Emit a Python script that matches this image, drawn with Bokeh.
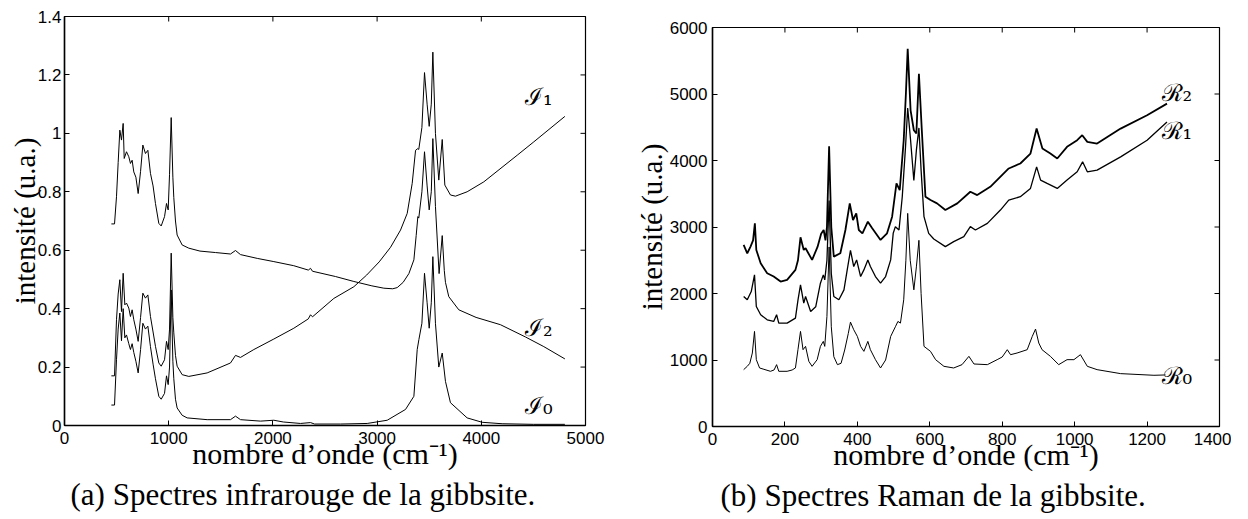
import math
from bokeh.plotting import figure
from bokeh.layouts import row, column
from bokeh.models import FixedTicker, Range1d, Title, ColumnDataSource
from bokeh.core.properties import value
from bokeh.embed import file_html
from bokeh.resources import INLINE

# ---------------- Infrared spectra (a) ----------------
i2_x = [450, 480, 499, 515, 531, 547, 563, 573, 595, 617, 633, 649, 665, 685, 707, 730, 752, 777, 800,
        825, 850, 873, 905, 928, 960, 979, 995, 1008, 1024, 1040, 1049, 1065, 1081, 1129, 1193, 1300,
        1450, 1593, 1641, 1689, 1850, 2009, 2200, 2340, 2361, 2380, 2600, 2777, 2950, 3065, 3150, 3193,
        3250, 3305, 3353, 3375, 3391, 3400, 3430, 3455, 3480, 3500, 3520, 3535, 3560, 3595, 3625, 3645,
        3656, 3688, 3784, 3950, 4184, 4424, 4600, 4802]
i2_y = [0.69, 0.69, 0.783, 0.90, 1.011, 0.977, 1.034, 0.914, 0.937, 0.92, 0.897, 0.908, 0.868, 0.85,
        0.794, 0.87, 0.96, 0.931, 0.942, 0.863, 0.82, 0.76, 0.692, 0.683, 0.715, 0.76, 0.738, 0.86,
        1.054, 0.85, 0.78, 0.70, 0.652, 0.618, 0.607, 0.597, 0.592, 0.587, 0.599, 0.585, 0.572, 0.561,
        0.547, 0.532, 0.538, 0.528, 0.51, 0.493, 0.478, 0.47, 0.468, 0.472, 0.49, 0.52, 0.567, 0.65,
        0.715, 0.71, 0.80, 0.937, 0.82, 0.738, 0.80, 0.982, 0.75, 0.52, 0.65, 0.53, 0.49, 0.441, 0.396,
        0.37, 0.345, 0.303, 0.27, 0.228]

i1_x = [450, 480, 499, 515, 531, 547, 563, 579, 595, 617, 633, 649, 665, 685, 707, 730, 752, 777, 800,
        825, 850, 873, 905, 928, 960, 979, 995, 1008, 1024, 1040, 1049, 1065, 1081, 1129, 1193, 1369,
        1593, 1641, 1689, 1817, 2009, 2201, 2340, 2361, 2380, 2585, 2777, 2900, 3020, 3129, 3225, 3289,
        3337, 3369, 3391, 3400, 3430, 3455, 3480, 3500, 3520, 3535, 3560, 3592, 3625, 3650, 3704, 3752,
        3864, 4024, 4344, 4504, 4802]
i1_y = [0.17, 0.17, 0.362, 0.45, 0.499, 0.39, 0.521, 0.413, 0.419, 0.402, 0.373, 0.396, 0.362, 0.33,
        0.288, 0.37, 0.453, 0.436, 0.447, 0.373, 0.32, 0.271, 0.214, 0.203, 0.225, 0.288, 0.26, 0.33,
        0.59, 0.37, 0.317, 0.24, 0.203, 0.174, 0.168, 0.18, 0.214, 0.24, 0.233, 0.26, 0.296, 0.333,
        0.365, 0.379, 0.372, 0.435, 0.475, 0.515, 0.56, 0.61, 0.669, 0.726, 0.829, 0.942, 0.948, 0.945,
        1.02, 1.208, 1.10, 1.024, 1.10, 1.278, 1.0, 0.84, 0.979, 0.823, 0.789, 0.785, 0.80, 0.834,
        0.925, 0.971, 1.058]

i0_x = [450, 480, 499, 515, 531, 547, 563, 579, 595, 617, 633, 649, 665, 685, 707, 730, 752, 777, 800,
        825, 850, 873, 905, 928, 960, 979, 995, 1008, 1024, 1040, 1049, 1065, 1081, 1129, 1177, 1369,
        1593, 1641, 1689, 1881, 2009, 2100, 2265, 2361, 2400, 2649, 2905, 3097, 3273, 3353, 3385, 3401,
        3430, 3455, 3480, 3500, 3520, 3535, 3560, 3592, 3625, 3656, 3704, 3864, 4008, 4200, 4500, 4802]
i0_y = [0.07, 0.07, 0.225, 0.33, 0.385, 0.29, 0.40, 0.30, 0.31, 0.28, 0.26, 0.28, 0.25, 0.22, 0.18,
        0.26, 0.35, 0.33, 0.34, 0.27, 0.21, 0.16, 0.10, 0.09, 0.11, 0.17, 0.14, 0.20, 0.464, 0.22, 0.16,
        0.09, 0.06, 0.035, 0.026, 0.02, 0.02, 0.032, 0.02, 0.015, 0.018, 0.012, 0.007, 0.01, 0.005,
        0.005, 0.007, 0.018, 0.055, 0.10, 0.26, 0.294, 0.35, 0.521, 0.42, 0.333, 0.42, 0.578, 0.35,
        0.20, 0.248, 0.151, 0.078, 0.026, 0.011, 0.006, 0.004, 0.004]

ir_xrange = (0, 5000)
ir_yrange = (0, 1.4)
ir_xticks = [0, 1000, 2000, 3000, 4000, 5000]
ir_yticks = [0, 0.2, 0.4, 0.6, 0.8, 1, 1.2, 1.4]
ir_ytick_labels = ["0", "0.2", "0.4", "0.6", "0.8", "1", "1.2", "1.4"]
ir_names = ["ℐ₁", "ℐ₂", "ℐ₀"]

# ---------------- Raman spectra (b) ----------------
r0_x = [86, 96, 103, 110, 116, 121, 130, 142, 160, 170, 177, 183, 206, 220, 229, 236, 243, 250, 257,
        266, 275, 289, 298, 306, 310, 316, 322, 328, 335, 345, 355, 365, 375, 381, 390, 400, 409, 418,
        429, 436, 450, 464, 478, 492, 505, 512, 519, 528, 534, 539, 546, 556, 563, 570, 576, 584, 602,
        616, 639, 666, 689, 708, 722, 759, 786, 800, 814, 823, 841, 869, 883, 892, 901, 910, 933, 956,
        979, 998, 1016, 1035, 1062, 1127, 1219, 1251]
r0_y = [855, 905, 950, 1105, 1430, 1005, 880, 860, 830, 850, 930, 830, 830, 850, 880, 1155, 1430, 1155,
        1205, 980, 905, 1005, 1205, 1280, 1205, 1655, 2700, 1500, 1050, 930, 950, 1150, 1400, 1570,
        1455, 1355, 1205, 1130, 1280, 1155, 1005, 880, 1000, 1355, 1500, 1580, 1555, 1905, 2500, 3205,
        2500, 2055, 2400, 2800, 2000, 1205, 1130, 1005, 905, 880, 930, 1055, 940, 930, 1005, 1045, 1155,
        1080, 1105, 1155, 1355, 1465, 1255, 1155, 1055, 930, 1005, 1005, 1080, 905, 855, 795, 770, 775]

r1_x = [86, 96, 107, 116, 121, 133, 151, 169, 177, 183, 206, 229, 236, 243, 252, 257, 271, 285, 298,
        306, 310, 316, 322, 328, 335, 349, 363, 372, 381, 390, 398, 409, 418, 429, 436, 450, 464, 478,
        492, 499, 505, 515, 524, 533, 539, 547, 556, 563, 570, 576, 584, 597, 611, 643, 666, 694, 712,
        726, 759, 795, 818, 850, 878, 895, 906, 924, 952, 979, 1007, 1022, 1035, 1062, 1127, 1200, 1255]
r1_y = [1955, 1905, 2030, 2280, 1805, 1680, 1605, 1580, 1680, 1555, 1555, 1630, 1900, 2130, 1855, 1955,
        1730, 1800, 2155, 2280, 2205, 2500, 3400, 2300, 1955, 1905, 2055, 2355, 2650, 2405, 2505, 2255,
        2355, 2505, 2405, 2255, 2155, 2255, 2505, 2905, 3005, 2955, 3455, 4205, 4790, 4305, 3700, 4155,
        4490, 3855, 3155, 2905, 2820, 2705, 2780, 2855, 3005, 2955, 3055, 3255, 3405, 3455, 3580, 3905,
        3705, 3655, 3580, 3705, 3830, 3980, 3830, 3855, 4055, 4305, 4580]

r2_x = [86, 96, 105, 112, 117, 121, 133, 151, 169, 188, 206, 229, 236, 243, 252, 257, 275, 290, 300,
        307, 312, 316, 322, 328, 335, 353, 367, 379, 388, 397, 404, 414, 429, 441, 464, 482, 496, 508,
        517, 528, 534, 539, 547, 556, 563, 570, 578, 588, 602, 620, 643, 676, 712, 731, 767, 818, 850,
        878, 895, 911, 933, 952, 979, 1007, 1021, 1035, 1062, 1127, 1200, 1255]
r2_y = [2730, 2605, 2705, 2800, 3055, 2655, 2455, 2305, 2255, 2180, 2205, 2355, 2500, 2845, 2655, 2680,
        2505, 2700, 2900, 2955, 2800, 3000, 4215, 3000, 2555, 2605, 2955, 3355, 3105, 3205, 2955, 2905,
        3080, 2980, 2805, 2905, 3155, 3655, 3555, 4305, 5000, 5680, 4755, 4455, 4405, 5305, 4455, 3455,
        3405, 3355, 3255, 3355, 3530, 3480, 3605, 3880, 3955, 4105, 4480, 4180, 4105, 4030, 4205, 4305,
        4380, 4280, 4255, 4480, 4680, 4855]

ra_xrange = (0, 1400)
ra_yrange = (0, 6000)
ra_xticks = [0, 200, 400, 600, 800, 1000, 1200, 1400]
ra_yticks = [0, 1000, 2000, 3000, 4000, 5000, 6000]
ra_ytick_labels = ["0", "1000", "2000", "3000", "4000", "5000", "6000"]
ra_names = ["ℛ₂", "ℛ₁", "ℛ₀"]

captions = ["(a) Spectres infrarouge de la gibbsite.", "(b) Spectres Raman de la gibbsite."]
xlabel = "nombre d’onde (cm⁻¹)"
ylabel = "intensité (u.a.)"

SERIF = "Liberation Serif"
SANS = "Liberation Sans"


def make_fig(xr, yr, xticks, yticks, ylabels, w, h, bl, br, bt, bb, caption, cap_offset,
             ytick_standoff, ylab_standoff):
    p = figure(x_range=Range1d(*xr), y_range=Range1d(*yr), width=w, height=h,
               min_border_left=bl, min_border_right=br, min_border_top=bt, min_border_bottom=bb,
               output_backend="svg", toolbar_location=None, tools="", title=None)
    p.xgrid.grid_line_color = None
    p.ygrid.grid_line_color = None
    p.outline_line_color = "black"
    p.outline_line_width = 1.2
    p.background_fill_color = "white"
    p.border_fill_color = "white"

    p.xaxis.ticker = FixedTicker(ticks=xticks)
    p.yaxis.ticker = FixedTicker(ticks=yticks)
    p.yaxis.major_label_overrides = dict(zip(yticks, ylabels))
    for ax in [p.xaxis[0], p.yaxis[0]]:
        ax.major_tick_in = 5
        ax.major_tick_out = 0
        ax.minor_tick_line_color = None
        ax.axis_line_color = "black"
        ax.axis_line_width = 1.5
        ax.major_tick_line_color = "black"
        ax.major_label_text_font = SANS
        ax.major_label_text_font_size = "17px"
        ax.major_label_text_color = "black"
        ax.axis_label_text_font = SERIF
        ax.axis_label_text_font_style = "normal"
        ax.axis_label_text_color = "black"
    p.xaxis.axis_label_text_font_size = "30px"
    p.yaxis.axis_label_text_font_size = "29px"
    p.xaxis.major_label_standoff = 6
    p.yaxis.major_label_standoff = ytick_standoff
    p.xaxis.axis_label = xlabel
    p.yaxis.axis_label = ylabel
    p.xaxis.axis_label_standoff = -10
    p.yaxis.axis_label_standoff = ylab_standoff

    # mirrored inward ticks on the top and right edges (clipped to the frame)
    p.scatter(x=xticks, y=[yr[1]] * len(xticks), marker="dash", angle=math.pi / 2, size=10,
              line_color="black", line_width=1)
    p.scatter(x=[xr[1]] * len(yticks), y=yticks, marker="dash", angle=0, size=10,
              line_color="black", line_width=1)

    p.add_layout(Title(text=caption, align="left", offset=cap_offset, text_font=SERIF,
                       text_font_size="31px", text_font_style="normal", text_color="black",
                       standoff=5), "below")
    return p


p1 = make_fig(ir_xrange, ir_yrange, ir_xticks, ir_yticks, ir_ytick_labels,
              615, 514, 64, 30, 16, 88, captions[0], 6, 3, -6)
for xs, ys in [(i1_x, i1_y), (i2_x, i2_y), (i0_x, i0_y)]:
    p1.line(xs, ys, line_color="black", line_width=1.0)
ir_lab = ColumnDataSource(dict(x=[4420, 4420, 4420], y=[1.125, 0.335, 0.068], t=ir_names))
p1.text(x="x", y="y", text="t", source=ir_lab, text_font=value("DejaVu Serif"),
        text_font_size="24px", text_baseline="middle", text_align="left", text_color="black")

p2 = make_fig(ra_xrange, ra_yrange, ra_xticks, ra_yticks, ra_ytick_labels,
              616, 515, 97, 12, 27, 88, captions[1], 8, 5, -1)
p2.line(r0_x, r0_y, line_color="black", line_width=1.0)
p2.line(r1_x, r1_y, line_color="black", line_width=1.3)
p2.line(r2_x, r2_y, line_color="black", line_width=1.8)
ra_lab = ColumnDataSource(dict(x=[1240, 1240, 1240], y=[5010, 4440, 765], t=ra_names))
p2.text(x="x", y="y", text="t", source=ra_lab, text_font=value("DejaVu Serif"),
        text_font_size="24px", text_baseline="middle", text_align="left", text_color="black")

layout = row(column(p1), column(p2))
open("out.html", "w").write(file_html(layout, INLINE))
